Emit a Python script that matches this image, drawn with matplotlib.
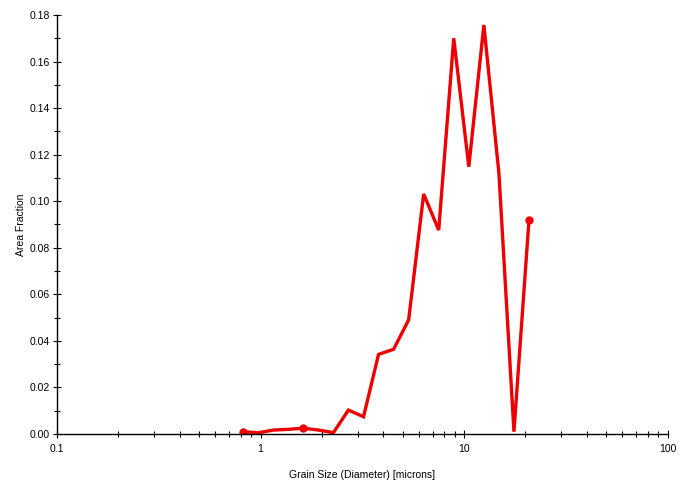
import numpy as np
import matplotlib.pyplot as plt
from matplotlib.ticker import FixedLocator, FormatStrFormatter, LogLocator, NullFormatter

# grain size bins (microns) and area fractions
grain_size = [0.822, 0.974, 1.155, 1.369, 1.623, 1.924, 2.281, 2.704, 3.206, 3.800,
              4.505, 5.341, 6.331, 7.506, 8.898, 10.55, 12.51, 14.83, 17.58, 20.84]
area_fraction = [0.0010, 0.0005, 0.0017, 0.0020, 0.0025, 0.0017, 0.0006, 0.0103, 0.0074, 0.0342,
                 0.0364, 0.0490, 0.1031, 0.0876, 0.1700, 0.1148, 0.1757, 0.1120, 0.0010, 0.0919]
marked = [0, 4, 19]

x_ticks = [0.1, 1, 10, 100]
x_labels = ['0.1', '1', '10', '100']
y_ticks = [0.00, 0.02, 0.04, 0.06, 0.08, 0.10, 0.12, 0.14, 0.16, 0.18]

plt.rcParams['font.family'] = ['Liberation Sans', 'DejaVu Sans']

fig = plt.figure(figsize=(6.8, 4.8), dpi=100)
ax = fig.add_axes([0.0838, 0.0958, 0.898, 0.873])

ax.plot(grain_size, area_fraction, color='#ee0000', lw=2.4, solid_joinstyle='miter')
ax.plot([grain_size[i] for i in marked], [area_fraction[i] for i in marked],
        'o', color='#ee0000', ms=5)

ax.set_xscale('log')
ax.set_xlim(0.1, 100)
ax.set_ylim(0, 0.18)

ax.set_xticks(x_ticks)
ax.set_xticklabels(x_labels)
ax.xaxis.set_minor_locator(LogLocator(base=10, subs=np.arange(2, 10)))
ax.xaxis.set_minor_formatter(NullFormatter())
ax.set_yticks(y_ticks)
ax.yaxis.set_major_formatter(FormatStrFormatter('%.2f'))
ax.yaxis.set_minor_locator(FixedLocator(np.arange(0.01, 0.18, 0.02)))

ax.tick_params(which='major', direction='inout', length=6, width=0.8, labelsize=7.5)
ax.tick_params(axis='y', which='major', pad=2)
ax.tick_params(axis='x', which='major', pad=4)
ax.tick_params(which='minor', direction='inout', length=4, width=0.8)

for s in ['top', 'right']:
    ax.spines[s].set_visible(False)
for s in ['left', 'bottom']:
    ax.spines[s].set_linewidth(1.0)

ax.set_xlabel('Grain Size (Diameter) [microns]', fontsize=7.5, labelpad=12)
ax.set_ylabel('Area Fraction', fontsize=7.5)
ax.yaxis.set_label_coords(-0.051, 0.5)

fig.savefig('out.png', dpi=100)
